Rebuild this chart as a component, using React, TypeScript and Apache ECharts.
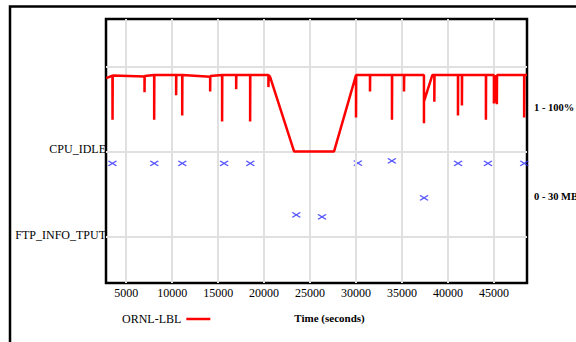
import React, { useEffect, useRef } from "react";
import * as echarts from "echarts";

// CPU idle (%) over time (seconds)
const cpuTime = [
  2830, 3500, 3511, 3530, 6990, 6990, 7010, 8040, 8040, 8060, 10430, 10430, 10450,
  11090, 11090, 11110, 14130, 14130, 14150, 15430, 15430, 15450, 16960, 16960, 16980,
  18480, 18480, 18500, 20470, 20470, 20490, 20650, 23260, 27610, 30000, 30000, 30020,
  31520, 31520, 31540, 33910, 33910, 33930, 35220, 35220, 35240, 37390, 37390, 37390,
  38300, 38520, 38520, 38540, 41090, 41090, 41110, 41520, 41520, 41540, 44130, 44130,
  44150, 45000, 45000, 45100, 45150, 45200, 45320, 45340, 48290, 48290, 48310, 48590,
];
const cpuIdle = [
  86.5, 89.5, 38, 89.5, 88.5, 70, 89, 90, 38, 90, 90, 66.5, 90,
  90, 43, 90, 88, 71, 89, 90, 36, 90, 90, 73.5, 90,
  90, 36, 90, 90, 76, 90, 88, 1, 1, 90, 40.6, 90,
  90, 71, 90, 90, 38, 90, 90, 71, 90, 90, 34, 59,
  90, 90, 59, 90, 90, 43, 90, 90, 54.7, 90, 90, 38,
  90, 90, 57, 90, 58, 90, 56, 90, 90, 40.6, 90, 90,
];

// FTP throughput (MB)
const ftpTime = [3500, 8050, 11100, 15650, 18500, 23500, 26300, 30200, 33900, 37400, 41100, 44350, 48300];
const ftpMB = [25.8, 25.8, 25.8, 25.8, 25.8, 7.6, 6.9, 25.9, 26.7, 13.6, 25.8, 25.8, 25.8];

const xTicks = [5000, 10000, 15000, 20000, 25000, 30000, 35000, 40000, 45000];
const bandLines = [0, 1, 2];
const leftLabels = ["FTP_INFO_TPUT", "CPU_IDLE"];
const rightLabels = ["0 - 30 MB", "1 - 100%"];

const FONT = "'Liberation Serif', 'DejaVu Serif', serif";

export default function App() {
  const ref = useRef<HTMLDivElement>(null);
  useEffect(() => {
    document.body.style.margin = "0";
    if (!ref.current) return;
    const chart = echarts.init(ref.current, null, { renderer: "svg" });
    const cpuData = cpuTime.map((t, i) => [t, 1 + (cpuIdle[i] - 1) / 99]);
    const ftpData = ftpTime.map((t, i) => [t, ftpMB[i] / 30]);
    chart.setOption({
      animation: false,
      textStyle: { fontFamily: FONT },
      grid: {
        left: 106,
        top: 19,
        right: 49,
        bottom: 59,
        outerBoundsMode: "none",
        containLabel: false,
        show: true,
        borderColor: "#000",
        borderWidth: 2.5,
        backgroundColor: "transparent",
      },
      graphic: [
        {
          type: "rect",
          shape: { x: 10, y: 6.5, width: 700, height: 500 },
          style: { fill: "none", stroke: "#000", lineWidth: 2.5 },
          silent: true,
        },
      ],
      legend: {
        data: ["ORNL-LBL"],
        left: 122,
        top: 313,
        padding: 0,
        align: "right",
        icon: "rect",
        itemWidth: 24,
        itemHeight: 2.5,
        textStyle: { fontFamily: FONT, fontSize: 12, color: "#000" },
      },
      xAxis: {
        type: "value",
        min: 2800,
        max: 48600,
        name: "Time (seconds)",
        nameLocation: "middle",
        nameGap: 29,
        nameTextStyle: {
          fontFamily: FONT,
          fontSize: 11,
          fontWeight: "bold",
          color: "#000",
          padding: [0, 0, 0, 26],
        },
        axisLine: { show: false },
        splitLine: { show: false },
        axisTick: {
          show: true,
          inside: true,
          length: 4,
          customValues: xTicks,
          lineStyle: { color: "#000", width: 1.5 },
        },
        axisLabel: {
          customValues: xTicks,
          formatter: (v: number) => String(v),
          fontFamily: FONT,
          fontSize: 12,
          color: "#000",
          margin: 4,
        },
      },
      yAxis: [
        {
          type: "value",
          min: -0.55,
          max: 2.56,
          position: "left",
          axisLine: { show: false },
          splitLine: { show: false },
          axisTick: {
            show: true,
            inside: true,
            length: 3,
            customValues: [2],
            lineStyle: { color: "#000", width: 1.5 },
          },
          axisLabel: {
            customValues: [0.02, 1.03],
            formatter: (v: number) => (v < 0.5 ? leftLabels[0] : leftLabels[1]),
            fontFamily: FONT,
            fontSize: 12,
            color: "#000",
            margin: 0,
          },
        },
        {
          type: "value",
          min: -0.55,
          max: 2.56,
          position: "right",
          axisLine: { show: false },
          splitLine: { show: false },
          axisTick: {
            show: true,
            inside: true,
            length: 4,
            customValues: bandLines,
            lineStyle: { color: "#000", width: 1.5 },
          },
          axisLabel: {
            customValues: [0.47, 1.52],
            formatter: (v: number) => (v < 0.8 ? rightLabels[0] : rightLabels[1]),
            fontFamily: FONT,
            fontSize: 10.5,
            fontWeight: "bold",
            color: "#000",
            margin: 7,
          },
        },
      ],
      series: [
        {
          name: "grid",
          type: "line",
          data: [],
          z: 1,
          silent: true,
          markLine: {
            silent: true,
            symbol: "none",
            label: { show: false },
            lineStyle: { color: "#e0e0e0", width: 2, type: "solid" },
            data: [
              ...xTicks.map((v) => ({ xAxis: v })),
              ...bandLines.map((v) => ({ yAxis: v })),
            ],
          },
        },
        {
          name: "ORNL-LBL",
          type: "line",
          data: cpuData,
          z: 5,
          showSymbol: false,
          symbol: "none",
          color: "#ff0000",
          lineStyle: { color: "#ff0000", width: 2.5 },
        },
        {
          name: "FTP",
          type: "scatter",
          data: ftpData,
          z: 4,
          symbol: "path://M0 0L10 6M10 0L0 6",
          symbolSize: [8, 5],
          itemStyle: { color: "none", borderColor: "#2a2aff", borderWidth: 1.3 },
        },
      ],
    });
    return () => chart.dispose();
  }, []);
  return <div ref={ref} style={{ width: 576, height: 342 }} />;
}
